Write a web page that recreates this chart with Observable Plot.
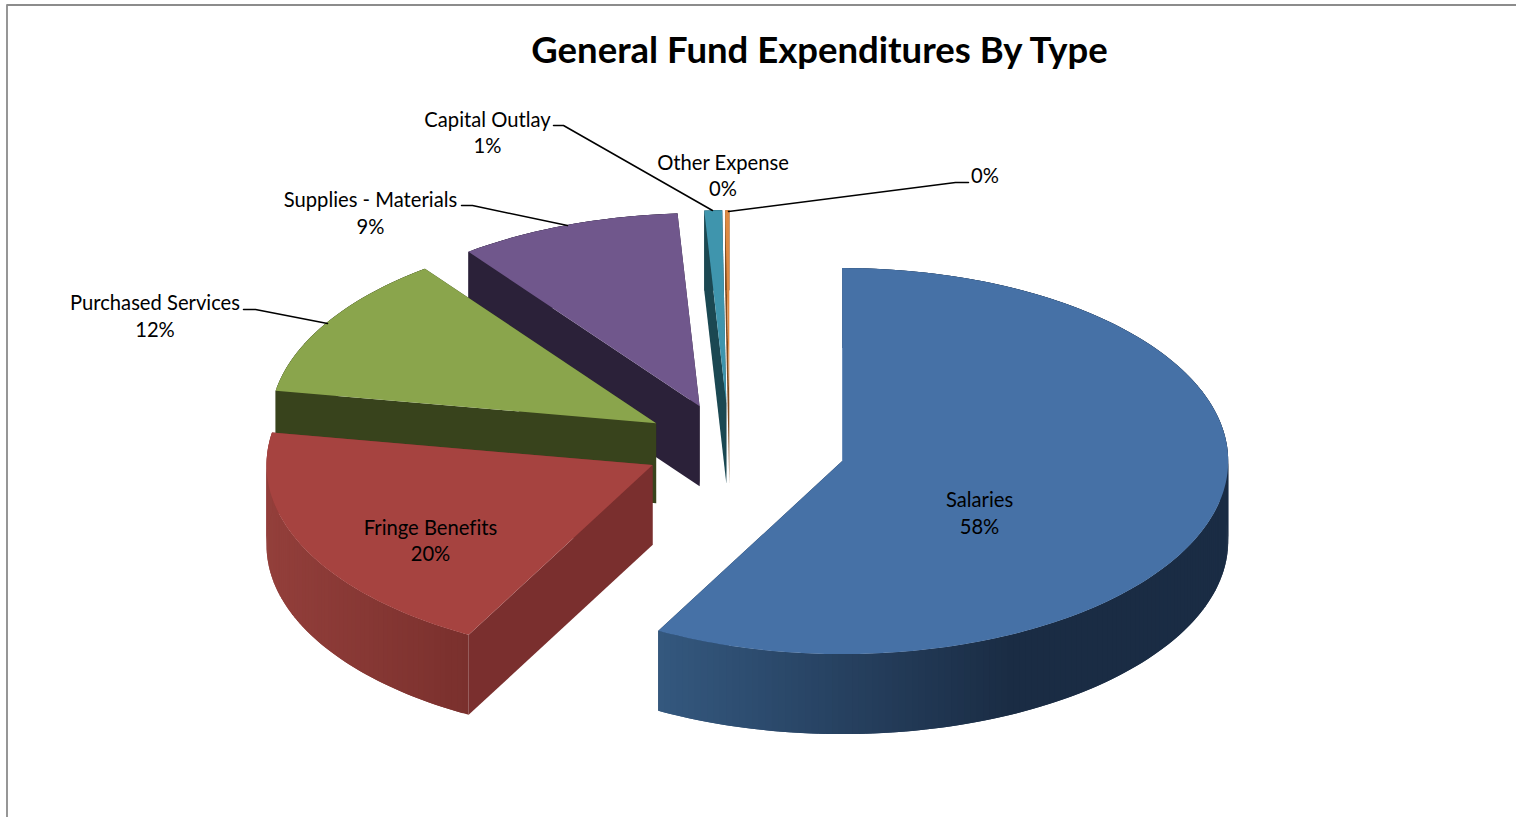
<!DOCTYPE html>
<html>
<head>
<meta charset="utf-8">
<title>General Fund Expenditures By Type</title>
<script src="https://cdn.jsdelivr.net/npm/d3@7"></script>
<script src="https://cdn.jsdelivr.net/npm/@observablehq/plot@0.6"></script>
<style>
  html, body { margin: 0; padding: 0; background: #fff; }
  svg { display: block; font-variant-ligatures: none; }
</style>
</head>
<body>
<script>
// Expenditure categories and their share of the general fund, in percent.
const categories = ["Salaries", "Fringe Benefits", "Purchased Services", "Supplies - Materials", "Capital Outlay", "Other Expense", ""];
const shares = [57.9, 19.8, 12.08, 9.31, 0.74, 0, 0.17];

// Slice colours: top face, cut face, and the outer wall from its left end to its right end.
const topColors = ["#4671a6", "#a64340", "#8aa54c", "#70578c", "#3f95ad", "#a5a5a5", "#df8a42"];
const cutColors = ["#1a2d45", "#7a2f2e", "#38431c", "#2b2139", "#1b4852", "#555555", "#7f4a1e"];
const wallFrom = ["#34587f", "#933f3b", "#46552a", "#3a2d4c", "#1f5563", "#666666", "#8f5522"];
const wallTo = ["#1a2c44", "#7a302d", "#38431c", "#2b2139", "#1b4852", "#555555", "#7f4a1e"];

// Where each slice's hub sits once the pie has been pulled apart.
const hubX = [841.7, 652, 655.6, 699.1, 725.8, 728.8, 728.8];
const hubY = [460.6, 464.6, 422.8, 405.8, 402.8, 402.8, 402.8];

// Pie proportions on the canvas.
const radiusX = 386, radiusY = 193, depth = 80;

// Label anchors, and the leader lines that tie outside labels to their slices.
const labelX = [979, 430, 154.5, 370, 487, 722.5, 984.5];
const labelY = [511.5, 539, 314.5, 211.5, 131, 174, 174.5];
const leaders = [
  [[553, 125], [563, 125], [712, 210]],
  [[461, 205], [472, 205], [567, 225]],
  [[243, 309], [255, 309], [327, 323]],
  [[968, 182], [955, 182], [728, 211]]
];
const frameEdge = [[1516, 4.5], [6.5, 4.5], [6.5, 817]];

const rad = (a) => (a * Math.PI) / 180;
const ends = d3.cumsum(shares).map((s) => (s * 360) / 100);
const starts = ends.map((e, i) => e - (shares[i] * 360) / 100);

// Projects an angle (clockwise from 12 o'clock) onto the tilted pie of slice i.
const rimPoint = (i, a, drop = 0) => ({
  x: hubX[i] + radiusX * Math.sin(rad(a)),
  y: hubY[i] - radiusY * Math.cos(rad(a)) + drop
});
const hubPoint = (i, drop = 0) => ({ x: hubX[i], y: hubY[i] + drop });

// Polygons are listed back to front, so the front slices paint over the ones behind.
const polygons = [];
const addPolygon = (points, color) => {
  const id = polygons.length ? polygons[polygons.length - 1].id + 1 : 0;
  for (const p of [...points, points[0]]) polygons.push({ ...p, id, color });
};

d3.range(shares.length).reverse().filter((i) => shares[i] > 0).forEach((i) => {
  const a0 = starts[i], a1 = ends[i];
  const cutFace = (a) => [hubPoint(i), rimPoint(i, a), rimPoint(i, a, depth), hubPoint(i, depth)];

  // The end cut face is hidden behind the top of the slice but closes the solid.
  addPolygon(cutFace(a1), cutColors[i]);
  // On the largest slice the start cut face is hidden as well.
  if (i === 0) addPolygon(cutFace(a0), cutColors[i]);

  // Outer wall as vertical strips shaded from left to right; each strip runs
  // under the next so that no seams open between them.
  const shade = d3.scaleLinear()
    .domain(i === 0 ? [hubX[0] - 184, hubX[0] + 170] : [hubX[i] - radiusX, hubX[i] + radiusX * Math.sin(rad(a0))])
    .range([wallFrom[i], wallTo[i]])
    .interpolate(d3.interpolateRgb)
    .clamp(true);
  const steps = Math.max(2, Math.ceil(a1 - a0));
  const step = (a1 - a0) / steps;
  d3.range(steps).forEach((k) => {
    const b0 = a0 + step * k, b1 = Math.min(a1, b0 + step * 2);
    const mid = rimPoint(i, b0 + step / 2);
    addPolygon([rimPoint(i, b0), rimPoint(i, b1), rimPoint(i, b1, depth), rimPoint(i, b0, depth)], shade(mid.x));
  });

  // The start cut face is the one that shows on the other slices.
  if (i !== 0) addPolygon(cutFace(a0), cutColors[i]);

  // Top face.
  const arc = d3.range(0, Math.max(3, Math.ceil(a1 - a0)) + 1).map((k, _, all) => a0 + ((a1 - a0) * k) / (all.length - 1));
  addPolygon([hubPoint(i), ...arc.map((a) => rimPoint(i, a))], topColors[i]);
});

const labels = categories.map((name, i) => ({
  x: labelX[i],
  y: labelY[i],
  text: (name ? name + "\n" : "") + Math.round(shares[i]) + "%"
}));

const chart = Plot.plot({
  width: 1516,
  height: 817,
  margin: 0,
  style: { background: "#fff", fontFamily: "Lato, sans-serif" },
  x: { domain: [0, 1516], range: [0, 1516], axis: null },
  y: { domain: [0, 817], range: [0, 817], axis: null },
  color: { type: "identity" },
  marks: [
    Plot.line(frameEdge, { x: "0", y: "1", stroke: "#8c8c8c", strokeWidth: 1.8 }),
    Plot.line(polygons, {
      x: "x", y: "y", z: "id",
      fill: "color", stroke: "none",
      curve: "linear"
    }),
    ...leaders.map((path) =>
      Plot.line(path, { x: "0", y: "1", stroke: "#000", strokeWidth: 1.5, curve: "linear" })
    ),
    Plot.text(labels, {
      x: "x", y: "y", text: "text",
      fill: "#000", fontSize: 20.2, lineHeight: 1.31,
      textAnchor: "middle", lineAnchor: "middle"
    }),
    Plot.text(["General Fund Expenditures By Type"], {
      frameAnchor: "top", dx: 61, dy: 37,
      fill: "#000", fontSize: 36.5, fontWeight: 700,
      textAnchor: "middle", lineAnchor: "top"
    })
  ]
});

document.body.append(chart);
</script>
</body>
</html>
